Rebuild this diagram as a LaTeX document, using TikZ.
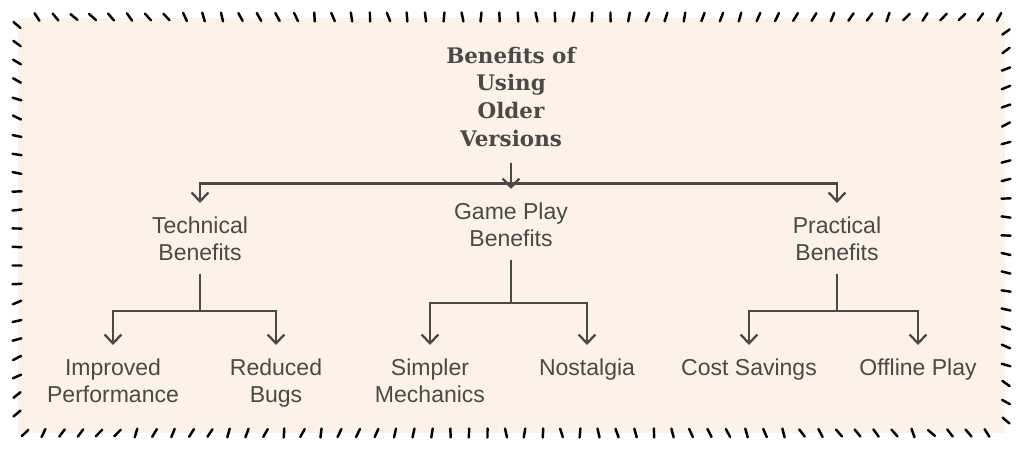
\documentclass[tikz,border=0pt]{standalone}
\usepackage{fontspec}
\setmainfont{Liberation Sans}
\newfontfamily\titlefont{DejaVu Serif}
\usetikzlibrary{arrows.meta}
\definecolor{paper}{RGB}{252,242,232}
\definecolor{ink}{RGB}{76,73,68}

\begin{document}
\begin{tikzpicture}[x=0.02cm, y=-0.02cm,
        title/.style={align=center, inner sep=0pt, outer sep=0.32cm, text=ink, font=\titlefont\bfseries\fontsize{12.2pt}{15.75pt}\selectfont},
        topic/.style={align=center, inner sep=0pt, outer sep=0.27cm, anchor=north, text=ink, font=\fontsize{13.1pt}{15.4pt}\selectfont},
        link/.style={draw=ink, line width=1.3pt, -{Straight Barb[length=5pt, width=9.5pt]}},
        tick/.style={line width=1.4pt, line cap=round}
    ]
    \useasboundingbox (0,0) rectangle (1024,453);
    \fill[paper] (18,18) rectangle (1005,433);

    % hand drawn border
    \pgfmathsetseed{5}
    \foreach \i in {0,...,52}{
        \pgfmathsetmacro\ta{-40+80*\i/52+15*rand}
        \draw[tick] (37+18.5*\i,17) ++(90+\ta:4.5) -- ++(270+\ta:9);
    }
    \foreach \i in {0,...,52}{
        \pgfmathsetmacro\ta{40-80*\i/52+15*rand}
        \draw[tick] (25+18.5*\i,433) ++(90+\ta:4.5) -- ++(270+\ta:9);
    }
    \foreach \i in {0,...,21}{
        \pgfmathsetmacro\ta{35-70*\i/21+10*rand}
        \draw[tick] (17,25+18.5*\i) ++(\ta:4.5) -- ++(180+\ta:9);
    }
    \foreach \i in {0,...,21}{
        \pgfmathsetmacro\ta{-35+70*\i/21+10*rand}
        \draw[tick] (1006,32+18.5*\i) ++(\ta:4.5) -- ++(180+\ta:9);
    }

    \node[title, anchor=north] (root) at (511,31) {Benefits of\\Using\\Older\\Versions};

    \node[topic] (tech) at (200,203) {Technical\\Benefits};
    \node[topic] (game) at (511,189) {Game Play\\Benefits};
    \node[topic] (prac) at (837,203) {Practical\\Benefits};

    \node[topic] (perf) at (113,345) {Improved\\Performance};
    \node[topic] (bugs) at (276,345) {Reduced\\Bugs};
    \node[topic] (mech) at (430,345) {Simpler\\Mechanics};
    \node[topic] (nost) at (587,345) {Nostalgia};
    \node[topic] (cost) at (749,345) {Cost Savings};
    \node[topic] (offl) at (918,345) {Offline Play};

    \draw[link] (root.south) -- (game.north);
    \draw[link] (root.south) -- ++(0,21) -| (tech.north);
    \draw[link] (root.south) -- ++(0,21) -| (prac.north);

    \draw[link] (tech.south) -- ++(0,37) -| (perf.north);
    \draw[link] (tech.south) -- ++(0,37) -| (bugs.north);
    \draw[link] (game.south) -- ++(0,43) -| (mech.north);
    \draw[link] (game.south) -- ++(0,43) -| (nost.north);
    \draw[link] (prac.south) -- ++(0,37) -| (cost.north);
    \draw[link] (prac.south) -- ++(0,37) -| (offl.north);
\end{tikzpicture}
\end{document}
